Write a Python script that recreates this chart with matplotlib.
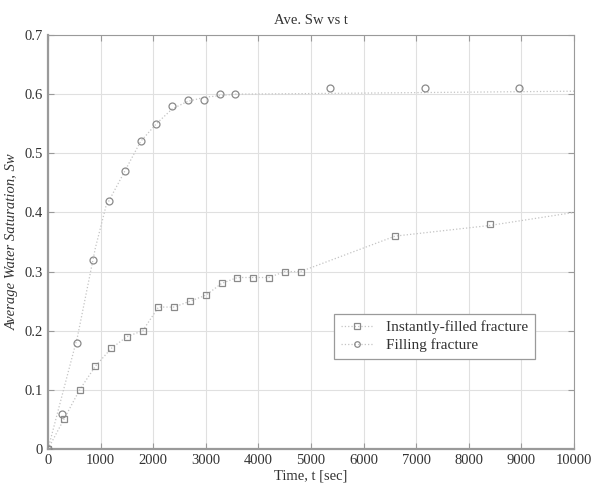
import matplotlib
matplotlib.use('Agg')
import matplotlib.pyplot as plt

# Data
# Instantly-filled fracture (squares)
inst_t = [0, 300, 600, 900, 1200, 1500, 1800, 2100, 2400, 2700, 3000, 3300,
          3600, 3900, 4200, 4500, 4800, 6600, 8400]
inst_sw = [0.0, 0.05, 0.10, 0.14, 0.17, 0.19, 0.20, 0.24, 0.24, 0.25, 0.26, 0.28,
           0.29, 0.29, 0.29, 0.30, 0.30, 0.36, 0.38]
# fitted curve drawn through the squares
inst_line_t = [0, 300, 600, 900, 1200, 1500, 1800, 2100, 2400, 2700, 3000, 3300,
               3600, 3900, 4200, 4500, 4800, 6600, 8400, 10000]
inst_line_sw = [0.0, 0.05, 0.10, 0.14, 0.17, 0.19, 0.20, 0.24, 0.24, 0.25, 0.26, 0.28,
                0.29, 0.29, 0.29, 0.30, 0.30, 0.36, 0.378, 0.40]

# Filling fracture (circles)
fill_t = [0, 260, 560, 860, 1160, 1460, 1760, 2060, 2360, 2660, 2960, 3260,
          3560, 5360, 7160, 8960]
fill_sw = [0.0, 0.06, 0.18, 0.32, 0.42, 0.47, 0.52, 0.55, 0.58, 0.59, 0.59, 0.60,
           0.60, 0.61, 0.61, 0.61]
fill_line_t = [0, 560, 900, 1100, 1460, 1760, 2060, 2360, 2660, 3000, 3560, 5000, 10000]
fill_line_sw = [0.0, 0.19, 0.34, 0.41, 0.47, 0.52, 0.55, 0.575, 0.588, 0.595, 0.60, 0.601, 0.605]

x_ticks = [0, 1000, 2000, 3000, 4000, 5000, 6000, 7000, 8000, 9000, 10000]
y_ticks = [0, 0.1, 0.2, 0.3, 0.4, 0.5, 0.6, 0.7]
y_tick_labels = ['0', '0.1', '0.2', '0.3', '0.4', '0.5', '0.6', '0.7']

# Style
MARKER_COLOUR = '#8a8a8a'
LINE_COLOUR = '#c4c4c4'
GRID_COLOUR = '#e0e0e0'
SPINE_COLOUR = '#9a9a9a'
TEXT_COLOUR = '#333333'

plt.rcParams['font.family'] = ['Liberation Serif', 'DejaVu Serif']
plt.rcParams['font.size'] = 10

fig = plt.figure(figsize=(5.93, 4.91), dpi=100)
ax = fig.add_axes([0.081, 0.0855, 0.887, 0.8432])

# dotted fit curves
ax.plot(inst_line_t, inst_line_sw, ls=':', lw=0.9, color=LINE_COLOUR, zorder=2)
ax.plot(fill_line_t, fill_line_sw, ls=':', lw=0.9, color=LINE_COLOUR, zorder=2)

# markers
ax.plot(inst_t, inst_sw, ls='none', marker='s', ms=5, mfc='none',
        mec=MARKER_COLOUR, mew=0.9, zorder=3)
ax.plot(fill_t, fill_sw, ls='none', marker='o', ms=5, mfc='none',
        mec=MARKER_COLOUR, mew=0.9, zorder=3)

# legend proxies (line + marker)
h1, = ax.plot([], [], ls=':', lw=0.9, color=LINE_COLOUR, marker='s', ms=4,
              mfc='none', mec=MARKER_COLOUR, mew=0.9)
h2, = ax.plot([], [], ls=':', lw=0.9, color=LINE_COLOUR, marker='o', ms=4,
              mfc='none', mec=MARKER_COLOUR, mew=0.9)
leg = ax.legend([h1, h2], ['Instantly-filled fracture', 'Filling fracture'],
                loc='lower left', bbox_to_anchor=(0.53, 0.2),
                fancybox=False, framealpha=1, edgecolor=SPINE_COLOUR,
                handlelength=2.2, borderpad=0.4, labelspacing=0.3,
                fontsize=11)
leg.get_frame().set_linewidth(0.9)
for t in leg.get_texts():
    t.set_color(TEXT_COLOUR)

ax.set_xlim(0, 10000)
ax.set_ylim(0, 0.7)
ax.set_xticks(x_ticks)
ax.set_yticks(y_ticks)
ax.set_yticklabels(y_tick_labels)
ax.tick_params(direction='in', top=True, right=True, length=4,
               color=SPINE_COLOUR, labelcolor=TEXT_COLOUR, labelsize=10.5)
ax.grid(True, color=GRID_COLOUR, lw=0.8)
ax.set_axisbelow(True)
for side in ['top', 'right']:
    ax.spines[side].set_color(SPINE_COLOUR)
    ax.spines[side].set_linewidth(0.8)
for side in ['left', 'bottom']:
    ax.spines[side].set_color(SPINE_COLOUR)
    ax.spines[side].set_linewidth(1.6)

ax.set_title('Ave. Sw vs t', color=TEXT_COLOUR, fontsize=10.5, pad=8)
ax.set_xlabel('Time, t [sec]', color=TEXT_COLOUR, fontsize=10.5, labelpad=2)
ax.set_ylabel('Average Water Saturation, Sw', color=TEXT_COLOUR, fontsize=10.5,
              style='italic', labelpad=4)

fig.savefig('out.png', dpi=100)
